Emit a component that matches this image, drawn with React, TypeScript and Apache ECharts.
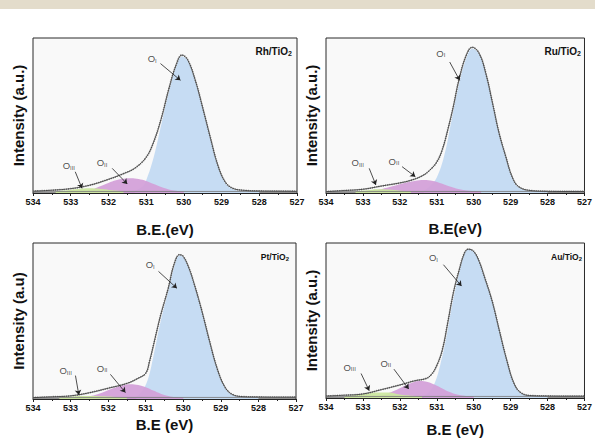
import React, { useEffect, useRef } from "react";
import * as echarts from "echarts";

// ---- data (binding energy eV, normalized intensity 0-100) ----
const xTicks = [534, 533, 532, 531, 530, 529, 528, 527];

const rhData = [[534,1.2],[533.5,1.8],[533,2.8],[532.5,5],[532,8.8],[531.6,12.5],[531.3,16],[531,23],[530.8,33],[530.6,48],[530.4,67],[530.2,83],[530.05,89],[529.9,86],[529.7,73],[529.5,55],[529.3,36],[529.1,18],[528.9,7],[528.7,3],[528.4,1.7],[528,1.3],[527.5,1.2],[527,1.1]];
const rhOI = [[531.3,1.5],[531.1,4],[531,8],[530.8,23],[530.6,44],[530.4,65],[530.2,82],[530.05,88],[529.9,85.5],[529.7,72.5],[529.5,54.5],[529.3,35.5],[529.1,17.5],[528.9,6.5],[528.7,2.5],[528.4,1.3],[528,1]];
const rhOII = [[532.6,1.2],[532.4,2.5],[532.2,4.5],[532,6.5],[531.8,8.2],[531.6,9.2],[531.4,9.5],[531.2,9],[531,7.8],[530.8,5.8],[530.6,3.8],[530.4,2.3],[530.2,1.5],[530,1.1]];
const rhOIII = [[533.4,1.1],[533.1,1.8],[532.8,2.6],[532.5,3],[532.2,2.6],[531.9,1.8],[531.6,1.2]];

const ruData = [[534,0.9],[533.5,1.6],[533,2.4],[532.5,4.5],[532,6.5],[531.7,8.2],[531.4,11],[531.2,14.5],[531,20],[530.85,28],[530.7,41],[530.55,56],[530.4,73],[530.2,89],[530.04,94],[529.85,90],[529.67,77],[529.49,58],[529.31,38.4],[529.13,23.4],[528.96,10.5],[528.78,4],[528.42,1.5],[528,1.1],[527.5,1],[527,1]];
const ruOI = [[531.35,1.5],[531.2,4],[531,10],[530.8,24],[530.6,47],[530.4,70],[530.2,87],[530.04,93],[529.85,89.5],[529.67,76.5],[529.49,57.5],[529.31,38],[529.13,23],[528.96,10],[528.78,3.6],[528.42,1.3],[528,1]];
const ruOII = [[532.8,1.2],[532.5,2.5],[532.2,4.3],[531.9,6.3],[531.6,7.8],[531.35,8.4],[531.1,7.8],[530.85,6],[530.6,3.8],[530.35,2.2],[530.1,1.4],[529.8,1.1]];
const ruOIII = [[533.2,1.1],[532.9,1.8],[532.6,2.5],[532.3,2.2],[532,1.5],[531.7,1.1]];

const ptData = [[534,0.9],[533.5,1.4],[533,2],[532.5,4],[532,6.9],[531.5,10],[531.2,13.3],[531,16.5],[530.9,24],[530.75,39],[530.6,54],[530.4,71],[530.25,86],[530.1,92.5],[530,91.4],[529.85,84],[529.7,73],[529.5,56],[529.3,37],[529.1,19.7],[528.9,8],[528.7,3],[528.4,1.5],[528,1.3],[527.5,1.2],[527,1.2]];
const ptOI = [[531.25,1.5],[531.1,5],[530.95,12],[530.8,27],[530.6,50],[530.4,69],[530.25,84],[530.1,92],[530,90.8],[529.85,83.5],[529.7,72.5],[529.5,55.5],[529.3,36.5],[529.1,19.2],[528.9,7.5],[528.7,2.7],[528.4,1.3],[528,1]];
const ptOII = [[532.6,1.2],[532.35,2.5],[532.1,4.6],[531.85,7],[531.6,8.8],[531.4,9.4],[531.2,8.9],[531,7.5],[530.8,5.4],[530.6,3.4],[530.4,2],[530.2,1.3],[530,1]];
const ptOIII = [[533.3,1],[533,1.5],[532.7,1.9],[532.4,2],[532.1,1.7],[531.8,1.3],[531.5,1]];

const auData = [[534,1.3],[533.5,1.8],[533,2.6],[532.5,5.4],[532,8.4],[531.6,11.1],[531.3,12.5],[531.15,15],[531,21],[530.85,31],[530.7,49],[530.55,68],[530.4,82],[530.25,93.6],[530.15,96],[530,94.6],[529.85,88],[529.7,77.5],[529.5,62.5],[529.3,43],[529.1,24],[528.9,9],[528.7,3],[528.4,1.5],[528,1.3],[527.5,1.2],[527,1.2]];
const auOI = [[531.35,1.5],[531.2,4],[531.05,10],[530.9,22],[530.75,38],[530.6,58],[530.4,80],[530.25,93],[530.15,95.8],[530,94.4],[529.85,87.8],[529.7,77.2],[529.5,62.2],[529.3,42.7],[529.1,23.6],[528.9,8.6],[528.7,2.7],[528.4,1.3],[528,1]];
const auOII = [[532.6,1.2],[532.35,2.8],[532.1,5.2],[531.85,8],[531.6,10.5],[531.45,11],[531.25,10.4],[531.05,8.6],[530.85,6.2],[530.65,3.8],[530.45,2.2],[530.25,1.4],[530,1.1]];
const auOIII = [[533.5,1.1],[533.2,1.9],[532.9,2.9],[532.6,3.6],[532.3,3.5],[532,2.2],[531.7,1.5],[531.4,1.1]];

const baseline = [[534, 1], [527, 1]];

// label [subscript, x, y] and arrows [x1, y1, x2, y2]
const rhLabels = [["I", 530.84, 86.7], ["II", 532.17, 19.5], ["III", 533.05, 17.6]];
const rhArrows = [[530.62, 83.5, 530.09, 72.7], [531.9, 15.9, 531.5, 5.8], [532.88, 13.7, 532.7, 3]];
const ruLabels = [["I", 530.89, 90.3], ["II", 532.16, 20.6], ["III", 533.14, 19.5]];
const ruArrows = [[530.65, 84.5, 530.38, 72.7], [531.94, 17, 531.58, 10.5], [532.83, 15.9, 532.65, 5.2]];
const ptLabels = [["I", 530.88, 86], ["II", 532.16, 19.7], ["III", 533.13, 18]];
const ptArrows = [[530.66, 81.8, 530.17, 71], [531.94, 15.8, 531.54, 4.1], [532.87, 15, 532.78, 2.6]];
const auLabels = [["I", 531.09, 90.4], ["II", 532.38, 22.3], ["III", 533.36, 20]];
const auArrows = [[530.82, 86, 530.33, 72.2], [532.16, 18.6, 531.76, 5.8], [533.05, 15.8, 532.83, 4.7]];

const sampleNames = ["Rh/TiO", "Ru/TiO", "Pt/TiO", "Au/TiO"];
const xNames = ["B.E.(eV)", "B.E(eV)", "B.E (eV)", "B.E (eV)"];
const yNames = ["Intensity (a.u.)", "Intensity (a.u.)", "Intensity (a.u)", "Intensity (a.u.)"];

const FONT = "'Liberation Sans', Arial, sans-serif";

const panels = [
  { data: rhData, oi: rhOI, oii: rhOII, oiii: rhOIII, labels: rhLabels, arrows: rhArrows },
  { data: ruData, oi: ruOI, oii: ruOII, oiii: ruOIII, labels: ruLabels, arrows: ruArrows },
  { data: ptData, oi: ptOI, oii: ptOII, oiii: ptOIII, labels: ptLabels, arrows: ptArrows },
  { data: auData, oi: auOI, oii: auOII, oiii: auOIII, labels: auLabels, arrows: auArrows },
];

const layout = [
  { left: 33, top: 38, width: 264, height: 155, nameGap: 29, titleRight: 303, titleTop: 46, titleSize: 10 },
  { left: 326, top: 38, width: 262, height: 155, nameGap: 28, titleRight: 14, titleTop: 46, titleSize: 10 },
  { left: 33, top: 243, width: 263, height: 156, nameGap: 18, titleRight: 306, titleTop: 252, titleSize: 8.5 },
  { left: 326, top: 243, width: 262, height: 155, nameGap: 24, titleRight: 13, titleTop: 252, titleSize: 8.5 },
];

export default function App() {
  const ref = useRef<HTMLDivElement>(null);
  useEffect(() => {
    if (!ref.current) return;
    const chart = echarts.init(ref.current, null, { renderer: "svg" });
    const grid: any[] = [];
    const xAxis: any[] = [];
    const yAxis: any[] = [];
    const series: any[] = [];
    const title: any[] = [];
    panels.forEach((p, i) => {
      const L = layout[i];
      grid.push({
        left: L.left, top: L.top, width: L.width, height: L.height,
        show: true, backgroundColor: "#f9f9f9", borderColor: "#2a2a2a", borderWidth: 1,
      });
      xAxis.push({
        type: "value", gridIndex: i, min: xTicks[xTicks.length - 1], max: xTicks[0], interval: 1, inverse: true,
        axisLine: { show: true, lineStyle: { color: "#222", width: 1 } },
        axisTick: { show: true, length: 3, lineStyle: { color: "#222" } },
        minorTick: { show: true, splitNumber: 2, length: 2, lineStyle: { color: "#222" } },
        splitLine: { show: false },
        axisLabel: { fontSize: 9, fontWeight: "bold", color: "#111", margin: 4, fontFamily: FONT, showMinLabel: true, showMaxLabel: true },
        name: xNames[i], nameLocation: "middle", nameGap: L.nameGap,
        nameTextStyle: { fontSize: 15, fontWeight: "bold", color: "#111", fontFamily: FONT },
      });
      yAxis.push({
        type: "value", gridIndex: i, min: 0, max: 100,
        axisLine: { show: false }, axisTick: { show: false }, axisLabel: { show: false }, splitLine: { show: false },
        name: yNames[i], nameLocation: "middle", nameGap: 7,
        nameTextStyle: { fontSize: 15, fontWeight: "bold", color: "#111", fontFamily: FONT },
      });
      const area = (d: number[][], color: string, op: number) => ({
        type: "line", xAxisIndex: i, yAxisIndex: i, data: d, smooth: 0.4, showSymbol: false, silent: true,
        lineStyle: { width: 0, opacity: 0 }, areaStyle: { color, opacity: op },
      });
      series.push(area(p.oi, "#c6dcf3", 1));
      series.push(area(p.oii, "#d29ed8", 0.92));
      series.push(area(p.oiii, "#cce8a0", 0.95));
      series.push({
        type: "line", xAxisIndex: i, yAxisIndex: i, data: baseline, showSymbol: false, silent: true,
        lineStyle: { color: "#777", width: 0.8 },
      });
      series.push({
        type: "line", xAxisIndex: i, yAxisIndex: i, data: p.data, smooth: 0.4, showSymbol: false, silent: true,
        lineStyle: { color: "#888", width: 1.8, type: [1, 1.2] },
      });
      series.push({
        type: "line", xAxisIndex: i, yAxisIndex: i, data: p.data, smooth: 0.4, showSymbol: false, silent: true,
        lineStyle: { color: "#333", width: 0.8 },
      });
      series.push({
        type: "scatter", xAxisIndex: i, yAxisIndex: i, symbolSize: 0, silent: true,
        data: p.labels.map((l) => ({ value: [l[1], l[2]], sub: l[0] })),
        label: {
          show: true, position: "inside",
          formatter: (q: any) => `{o|O}{s|${q.data.sub}}`,
          rich: {
            o: { fontSize: 9.5, color: "#222", fontFamily: FONT },
            s: { fontSize: 6, color: "#222", fontFamily: FONT, padding: [4, 0, 0, 0] },
          },
        },
        markLine: {
          silent: true, symbol: ["none", "arrow"], symbolSize: 5,
          label: { show: false },
          lineStyle: { color: "#222", width: 0.8, type: "solid" },
          data: p.arrows.map((a) => [{ coord: [a[0], a[1]] }, { coord: [a[2], a[3]] }]),
        },
      });
      title.push({
        text: `{a|${sampleNames[i]}}{b|2}`,
        right: L.titleRight, top: L.titleTop, padding: 0,
        textStyle: {
          rich: {
            a: { fontSize: L.titleSize, fontWeight: "bold", color: "#111", fontFamily: FONT },
            b: { fontSize: L.titleSize * 0.7, fontWeight: "bold", color: "#111", fontFamily: FONT, padding: [4, 0, 0, 0] },
          },
        },
      });
    });
    chart.setOption({
      animation: false,
      backgroundColor: "#ffffff",
      title,
      grid,
      xAxis,
      yAxis,
      series,
      graphic: [
        { type: "rect", shape: { x: 0, y: 0, width: 595, height: 9 }, style: { fill: "#e3dccb" }, silent: true },
      ],
    });
    return () => chart.dispose();
  }, []);
  return (
    <div
      ref={ref}
      style={{ position: "absolute", left: 0, top: 0, width: 595, height: 438, background: "#fff" }}
    />
  );
}
